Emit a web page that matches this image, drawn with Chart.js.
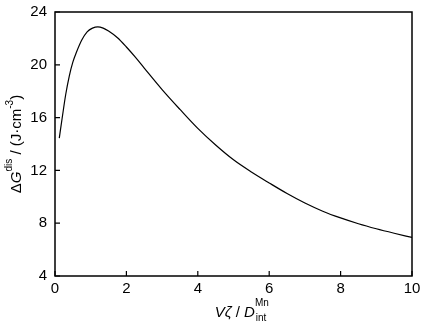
<!DOCTYPE html>
<html>
<head>
<meta charset="utf-8">
<script src="https://cdn.jsdelivr.net/npm/chart.js@4"></script>
<style>
  html, body { margin: 0; padding: 0; background: #fff; }
  #wrap { width: 426px; height: 328px; }
</style>
</head>
<body>
<div id="wrap"><canvas id="line-chart" width="426" height="328"></canvas></div>
<script>
// ------------------------------------------------------
// @Data
// ------------------------------------------------------
const xValues = [0.12, 0.2, 0.3, 0.4, 0.5, 0.6, 0.75, 0.9, 1.05, 1.2, 1.35, 1.5, 1.75, 2.0, 2.25, 2.5,
                 3.0, 3.5, 4.0, 4.5, 5.0, 5.5, 6.0, 6.5, 7.0, 7.5, 8.0, 8.5, 9.0, 9.5, 10.0];
const yValues = [14.45, 15.95, 17.75, 19.15, 20.2, 20.95, 21.88, 22.5, 22.78, 22.88, 22.78, 22.56, 22.05, 21.35, 20.58, 19.75,
                 18.12, 16.62, 15.18, 13.92, 12.8, 11.88, 11.05, 10.25, 9.53, 8.91, 8.4, 7.96, 7.58, 7.24, 6.92];
const xTicks = [0, 2, 4, 6, 8, 10];
const yTicks = [4, 8, 12, 16, 20, 24];

const FONT = '"Liberation Sans", Arial, sans-serif';

// draws a run of text pieces (with sub/superscripts) centred on (cx, cy)
function drawRich(ctx, parts, cx, cy, angle) {
  ctx.save();
  ctx.translate(cx, cy);
  ctx.rotate(angle);
  let total = 0;
  parts.forEach(p => { ctx.font = p.font; total += ctx.measureText(p.text).width + (p.gap || 0); });
  let x = -total / 2;
  ctx.fillStyle = '#000';
  ctx.textBaseline = 'alphabetic';
  ctx.textAlign = 'left';
  parts.forEach(p => {
    ctx.font = p.font;
    ctx.fillText(p.text, x, p.dy || 0);
    x += ctx.measureText(p.text).width + (p.gap || 0);
  });
  ctx.restore();
}

const framePlugin = {
  id: 'frame',
  afterDatasetsDraw(chart) {
    const { ctx, chartArea: a, scales } = chart;
    ctx.save();
    ctx.strokeStyle = '#000';
    ctx.lineWidth = 1.5;
    ctx.strokeRect(a.left, a.top, a.right - a.left, a.bottom - a.top);
    ctx.lineWidth = 1.2;
    ctx.beginPath();
    xTicks.forEach(v => {
      const px = scales.x.getPixelForValue(v);
      ctx.moveTo(px, a.bottom);
      ctx.lineTo(px, a.bottom - 5);
    });
    yTicks.forEach(v => {
      const py = scales.y.getPixelForValue(v);
      ctx.moveTo(a.left, py);
      ctx.lineTo(a.left + 5, py);
    });
    ctx.stroke();
    ctx.restore();

    const big = 'italic 15px ' + FONT;
    const up = '15px ' + FONT;
    const small = '10px ' + FONT;

    // x title
    drawRich(ctx, [
      { text: 'V\u03B6', font: big },
      { text: ' / ', font: up },
      { text: 'D', font: big, gap: 0 },
      { text: 'Mn', font: small, dy: -11, gap: -13 },
      { text: 'int', font: small, dy: 4 }
    ], (a.left + a.right) / 2 + 7, 317, 0);

    // y title
    drawRich(ctx, [
      { text: '\u0394', font: up },
      { text: 'G', font: big },
      { text: 'dis', font: small, dy: -9 },
      { text: ' / (J\u00B7cm', font: up },
      { text: '-3', font: small, dy: -8 },
      { text: ')', font: up }
    ], 21, (a.top + a.bottom) / 2, -Math.PI / 2);
  }
};

const lineChartBox = document.getElementById('line-chart');

if (lineChartBox) {
  const lineCtx = lineChartBox.getContext('2d');

  new Chart(lineCtx, {
    type: 'line',
    data: {
      datasets: [{
        label           : 'dG',
        data            : xValues.map((x, i) => ({ x: x, y: yValues[i] })),
        borderColor     : '#000',
        borderWidth     : 1.2,
        pointRadius     : 0,
        fill            : false,
        cubicInterpolationMode: 'monotone',
      }],
    },

    options: {
      responsive: false,
      animation: false,
      layout: { padding: { top: 12, right: 14, left: 0, bottom: 0 } },
      plugins: {
        legend: { display: false },
        tooltip: { enabled: false },
      },
      scales: {
        x: {
          type: 'linear',
          min: 0,
          max: 10,
          afterBuildTicks: s => { s.ticks = xTicks.map(v => ({ value: v })); },
          afterFit: s => { s.height = 52; s.paddingLeft = 0; s.paddingRight = 0; },
          grid: { display: false, drawTicks: false },
          border: { display: false },
          ticks: { color: '#000', padding: 4, font: { family: FONT, size: 15 }, maxRotation: 0 },
        },
        y: {
          min: 4,
          max: 24,
          afterBuildTicks: s => { s.ticks = yTicks.map(v => ({ value: v })); },
          afterFit: s => { s.width = 55; s.paddingTop = 0; s.paddingBottom = 0; },
          grid: { display: false, drawTicks: false },
          border: { display: false },
          ticks: { color: '#000', padding: 8, font: { family: FONT, size: 15 } },
        },
      },
    },
    plugins: [framePlugin],
  });
}
</script>
</body>
</html>
